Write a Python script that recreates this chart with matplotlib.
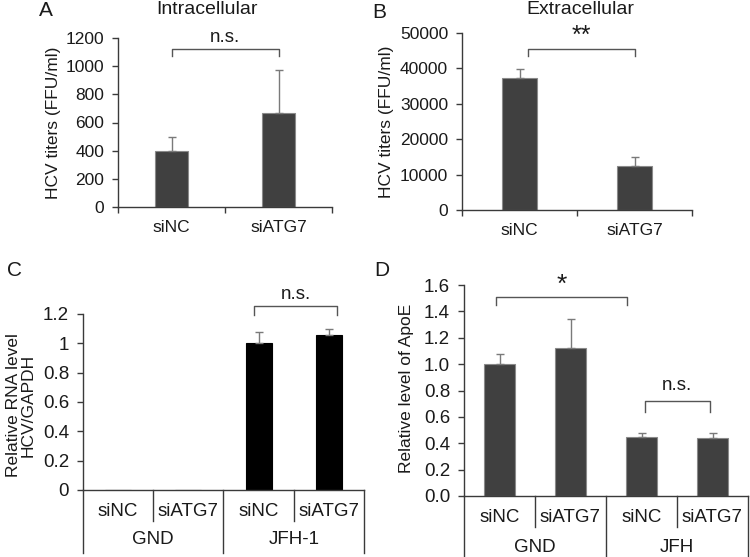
import numpy as np
import matplotlib
matplotlib.use("Agg")
import matplotlib.pyplot as plt

plt.rcParams["font.family"] = ["Liberation Sans", "DejaVu Sans"]

# panel A / B: HCV titers
ab_labels = ["siNC", "siATG7"]
intra_vals = [400, 665]
intra_err = [100, 310]
extra_vals = [37300, 12400]
extra_err = [2500, 2550]

# panel C / D: grouped categories
cd_sub = ["siNC", "siATG7", "siNC", "siATG7"]
c_groups = ["GND", "JFH-1"]
d_groups = ["GND", "JFH"]
rna_vals = [0, 0, 1.0, 1.055]
rna_err = [0, 0, 0.075, 0.04]
apoe_vals = [1.0, 1.12, 0.45, 0.44]
apoe_err = [0.08, 0.22, 0.03, 0.04]

W, H = 750, 557
TXT = "#1a1a1a"
AXC = "#3a3a3a"
BAR = "#404040"
ERRC = "#7a7a7a"
FS = 12.5
FS2 = 13.5


def px_axes(fig, l, r, b, t):
    return fig.add_axes([l / W, 1 - b / H, (r - l) / W, (b - t) / H])


def style(ax, fs=FS):
    for s in ["top", "right"]:
        ax.spines[s].set_visible(False)
    for s in ["left", "bottom"]:
        ax.spines[s].set_color(AXC)
        ax.spines[s].set_linewidth(1.0)
    ax.tick_params(axis="y", direction="out", length=4, width=1.0,
                   color=AXC, labelsize=fs, labelcolor=TXT, pad=6)


def bars(ax, vals, err, color, width, edge):
    x = np.arange(len(vals))
    ax.bar(x, vals, width=width, color=color, edgecolor=edge, linewidth=0.8, zorder=2)
    e = np.array(err)
    m = e > 0
    ax.errorbar(x[m], np.array(vals)[m], yerr=[np.zeros(m.sum()), e[m]],
                fmt="none", ecolor=ERRC, elinewidth=1.0, capsize=2.6,
                capthick=1.0, zorder=3)
    ax.set_xlim(-0.5, len(vals) - 0.5)


def bracket(ax, x0, x1, y, ydrop, label, fs=13.5, off=2):
    ax.plot([x0, x0, x1, x1], [ydrop, y, y, ydrop], color="#555555", lw=1.0,
            clip_on=False, zorder=4)
    ax.annotate(label, xy=((x0 + x1) / 2, y), xytext=(0, off),
                textcoords="offset points", ha="center", va="bottom",
                fontsize=fs, color=TXT, annotation_clip=False)


def ab_xaxis(ax, labels):
    ax.set_xticks([-0.5, 0.5, 1.5])
    ax.set_xticklabels([])
    ax.tick_params(axis="x", direction="out", length=4, width=1.0, color=AXC)
    for i, lab in enumerate(labels):
        ax.annotate(lab, xy=(i, 0), xycoords=("data", "axes fraction"),
                    xytext=(0, -14.5), textcoords="offset points",
                    ha="center", va="center", fontsize=FS, color=TXT)


def cd_table(ax, sub, groups, row1_y, sep_y, group_y, bottom_y):
    ax.set_xticks([])
    tr = ax.get_xaxis_transform()
    for i, lab in enumerate(sub):
        ax.text(i, row1_y, lab, transform=tr, ha="center", va="center",
                fontsize=FS2, color=TXT)
    for gi, g in enumerate(groups):
        ax.text(gi * 2 + 0.5, group_y, g, transform=tr, ha="center",
                va="center", fontsize=FS2, color=TXT)
    for xs in [0.5, 2.5]:
        ax.plot([xs, xs], [0, sep_y], transform=tr, color=AXC, lw=1.0, clip_on=False)
    for xs in [-0.5, 1.5, 3.5]:
        ax.plot([xs, xs], [0, bottom_y], transform=tr, color=AXC, lw=1.0, clip_on=False)


fig = plt.figure(figsize=(W / 100, H / 100), dpi=100)

# A
axA = px_axes(fig, 118, 332, 207, 38)
style(axA)
bars(axA, intra_vals, intra_err, BAR, 0.31, "#8a8a8a")
axA.set_ylim(0, 1200)
axA.set_yticks(np.arange(0, 1201, 200))
ab_xaxis(axA, ab_labels)
axA.set_ylabel("HCV titers (FFU/ml)", fontsize=FS, color=TXT)
axA.yaxis.set_label_coords((61 - 118) / 214, 0.5)
bracket(axA, 0.0, 1.0, 1120, 1075, "n.s.")

# B
axB = px_axes(fig, 462, 692, 210, 33)
style(axB)
bars(axB, extra_vals, extra_err, BAR, 0.31, "#8a8a8a")
axB.set_ylim(0, 50000)
axB.set_yticks(np.arange(0, 50001, 10000))
ab_xaxis(axB, ab_labels)
axB.set_ylabel("HCV titers (FFU/ml)", fontsize=FS, color=TXT)
axB.yaxis.set_label_coords((394 - 462) / 230, 0.5)
bracket(axB, 0.07, 1.0, 45500, 43500, "**", fs=18, off=1)

# C
axC = px_axes(fig, 83, 364, 490, 314)
style(axC, FS2)
bars(axC, rna_vals, rna_err, "black", 0.37, "black")
axC.set_ylim(0, 1.2)
axC.set_yticks(np.arange(0, 1.21, 0.2))
axC.set_yticklabels(["0", "0.2", "0.4", "0.6", "0.8", "1", "1.2"])
cd_table(axC, cd_sub, c_groups, -0.125, -0.176, -0.284, -0.358)
axC.set_ylabel("Relative RNA level\nHCV/GAPDH", fontsize=FS, color=TXT,
               linespacing=1.0)
axC.yaxis.set_label_coords((36 - 83) / 281, 0.48)
bracket(axC, 1.94, 3.12, 1.2545, 1.193, "n.s.")

# D
axD = px_axes(fig, 464, 748, 496, 285)
style(axD, FS2)
bars(axD, apoe_vals, apoe_err, BAR, 0.44, "#8a8a8a")
axD.set_ylim(0, 1.6)
axD.set_yticks(np.arange(0, 1.61, 0.2))
axD.set_yticklabels([f"{v:.1f}" for v in np.arange(0, 1.61, 0.2)])
cd_table(axD, cd_sub, d_groups, -0.1, -0.147, -0.242, -0.295)
axD.set_ylabel("Relative level of ApoE", fontsize=FS, color=TXT)
axD.yaxis.set_label_coords((414 - 464) / 284, 0.51)
bracket(axD, -0.05, 1.80, 1.507, 1.448, "*", fs=19, off=0)
bracket(axD, 2.05, 2.96, 0.723, 0.639, "n.s.", off=5)

# titles and panel letters
fig.text(207 / W, 1 - 10 / H, "Intracellular", fontsize=14, color=TXT, ha="center", va="center")
fig.text(580 / W, 1 - 10 / H, "Extracellular", fontsize=14, color=TXT, ha="center", va="center")
for lab, x, y in [("A", 46, 11), ("B", 379, 13), ("C", 15, 270), ("D", 382, 271)]:
    fig.text(x / W, 1 - y / H, lab, fontsize=15, color=TXT, ha="center", va="center")

fig.savefig("out.png", dpi=100)
